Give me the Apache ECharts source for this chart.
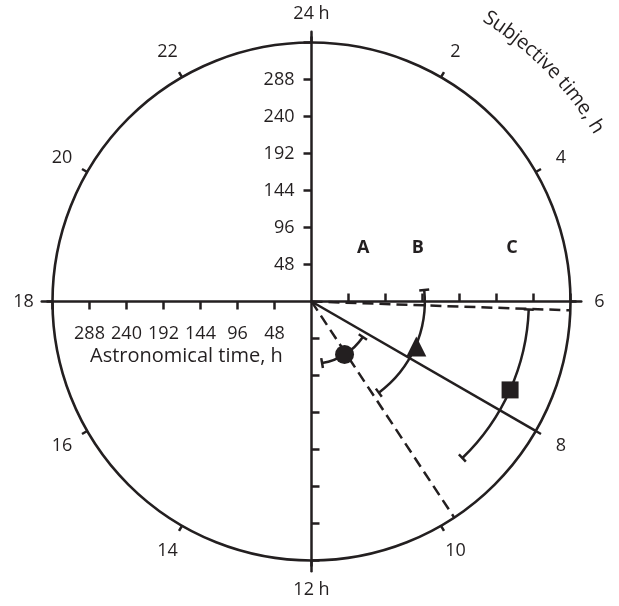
<!DOCTYPE html>
<html><head><meta charset="utf-8">
<script src="https://cdn.jsdelivr.net/npm/echarts@6/dist/echarts.min.js"></script>
<style>html,body{margin:0;padding:0;background:#fff}#c{width:619px;height:606px}</style>
</head><body><div id="c"></div>
<script>
// ---- data ----
const clockHours = [0, 2, 4, 6, 8, 10, 12, 14, 16, 18, 20, 22];
const clockLabels = ['24 h', '2', '4', '6', '8', '10', '12 h', '14', '16', '18', '20', '22'];
const radialTicks = [48, 96, 144, 192, 240, 288, 336];
const radialLabels = [48, 96, 144, 192, 240, 288];
const groupNames = ['A', 'B', 'C'];
const markerRadius = [81, 148, 282];     // astronomical time, h
const markerTime = [9.87, 7.55, 7.6];    // subjective time, h
const arcRadius = [81, 147, 282];
const arcStart = [8.31, 5.61, 6.14];
const arcEnd = [11.35, 9.57, 9.07];
const solidLineTime = 8;
const dashedLineTimes = [6.13, 9.77];
const groupLabelPos = [[67, 69], [138, 69], [260, 69]];

// ---- layout/style ----
const INK = '#231f20';
const FONT = '"Open Sans", "Noto Sans", sans-serif';
const CX = 311.5, CY = 301.5, RPX = 259;
const AXMAX = 350;
const AXPX = RPX * AXMAX / 336;
const CLOCK_LABEL_R = 288 * 336 / RPX;

const chart = echarts.init(document.getElementById('c'), null, {renderer: 'canvas'});

function arcRender(params, api) {
  const r = api.value(0), t1 = api.value(1), t2 = api.value(2);
  const c = api.coord([0, 0]);
  const p1 = api.coord([r, t1]);
  const p2 = api.coord([r, t2]);
  const R = Math.hypot(p1[0] - c[0], p1[1] - c[1]);
  const a1 = Math.atan2(p1[1] - c[1], p1[0] - c[0]);
  const a2 = Math.atan2(p2[1] - c[1], p2[0] - c[0]);
  const cap = (p) => {
    const ux = (p[0] - c[0]) / R, uy = (p[1] - c[1]) / R, h = 5;
    return {type: 'line', shape: {x1: p[0] - ux * h, y1: p[1] - uy * h, x2: p[0] + ux * h, y2: p[1] + uy * h},
      style: {stroke: INK, lineWidth: 2.5}};
  };
  return {type: 'group', children: [
    {type: 'arc', shape: {cx: c[0], cy: c[1], r: R, startAngle: a1, endAngle: a2, clockwise: true},
      style: {stroke: INK, lineWidth: 2.5, fill: null}},
    cap(p1), cap(p2)
  ]};
}

// curved title
const title = 'Subjective time, h';
const TFONT = '20px ' + FONT;
const mctx = document.createElement('canvas').getContext('2d');
mctx.font = TFONT;
const chars = Array.from(title);
const widths = chars.map(ch => mctx.measureText(ch).width);
const total = widths.reduce((a, b) => a + b, 0);
const TR = 334, midAng = 45.4 * Math.PI / 180;
let acc = -total / 2;
const titleEls = chars.map((ch, i) => {
  const m = acc + widths[i] / 2; acc += widths[i];
  const th = midAng + m / TR;
  return {type: 'text', x: CX + TR * Math.sin(th), y: CY - TR * Math.cos(th), rotation: -th,
    style: {text: ch, font: TFONT, fill: INK, align: 'center', verticalAlign: 'middle'}};
});

const axisLine = {show: true, onZero: false, lineStyle: {color: INK, width: 2.5}};
const tickStyle = {color: INK, width: 2.5};

const option = {
  animation: false,
  backgroundColor: '#fff',
  polar: {center: [CX, CY], radius: RPX},
  angleAxis: {
    type: 'value', min: 0, max: 24, interval: 2, startAngle: 90, clockwise: true,
    axisLine: {show: true, lineStyle: {color: INK, width: 2.6}},
    axisTick: {show: true, inside: false, length: 6, lineStyle: tickStyle},
    splitLine: {show: false},
    axisLabel: {show: false}
  },
  radiusAxis: {type: 'value', min: 0, max: 336, show: false},
  grid: [
    {left: CX, top: CY - AXPX, width: AXPX, height: AXPX, outerBoundsMode: 'none', containLabel: false},
    {left: CX - AXPX, top: CY, width: AXPX, height: AXPX, outerBoundsMode: 'none', containLabel: false}
  ],
  xAxis: [
    {gridIndex: 0, type: 'value', min: 0, max: AXMAX, position: 'bottom', axisLine,
      axisTick: {show: true, inside: true, length: 8, customValues: radialTicks, lineStyle: tickStyle},
      axisLabel: {show: false}, splitLine: {show: false}},
    {gridIndex: 1, type: 'value', min: 0, max: AXMAX, inverse: true, position: 'top', axisLine,
      axisTick: {show: true, inside: true, length: 8, customValues: radialTicks, lineStyle: tickStyle},
      axisLabel: {show: true, inside: true, margin: 23, customValues: radialLabels, color: INK, fontSize: 18, fontFamily: FONT},
      splitLine: {show: false}}
  ],
  yAxis: [
    {gridIndex: 0, type: 'value', min: 0, max: AXMAX, position: 'left', axisLine,
      axisTick: {show: true, inside: false, length: 8, customValues: radialTicks, lineStyle: tickStyle},
      axisLabel: {show: true, margin: 17, customValues: radialLabels, color: INK, fontSize: 18, fontFamily: FONT},
      splitLine: {show: false}},
    {gridIndex: 1, type: 'value', min: 0, max: AXMAX, inverse: true, position: 'right', axisLine,
      axisTick: {show: true, inside: false, length: 8, customValues: radialTicks, lineStyle: tickStyle},
      axisLabel: {show: false}, splitLine: {show: false}}
  ],
  graphic: [
    {type: 'text', x: 90, y: 356, style: {text: 'Astronomical time, h', font: '20px ' + FONT, fill: INK, align: 'left', verticalAlign: 'middle'}},
    ...titleEls
  ],
  series: [
    {type: 'line', coordinateSystem: 'polar', clip: false, symbol: 'none', silent: true,
      data: [[0, solidLineTime], [AXMAX, solidLineTime]], lineStyle: {color: INK, width: 2.5}},
    ...dashedLineTimes.map(t => ({type: 'line', coordinateSystem: 'polar', clip: false, symbol: 'none', silent: true,
      data: [[0, t], [336, t]], lineStyle: {color: INK, width: 2.5, type: [11, 6]}})),
    {type: 'custom', coordinateSystem: 'polar', renderItem: arcRender, z: 3,
      data: arcRadius.map((r, i) => [r, arcStart[i], arcEnd[i]])},
    ...groupNames.map((n, i) => ({type: 'scatter', coordinateSystem: 'polar', z: 5, name: n,
      symbol: ['circle', 'triangle', 'rect'][i], symbolSize: [19, 20, 17][i],
      itemStyle: {color: INK, opacity: 1}, data: [[markerRadius[i], markerTime[i]]]})),
    {type: 'scatter', coordinateSystem: 'polar', clip: false, symbolSize: 0, silent: true,
      itemStyle: {opacity: 1},
      data: clockHours.map(h => [CLOCK_LABEL_R, h]),
      label: {show: true, position: 'inside', formatter: p => clockLabels[p.dataIndex], color: INK,
        fontSize: 18, fontFamily: FONT}},
    {type: 'scatter', xAxisIndex: 0, yAxisIndex: 0, symbolSize: 0, silent: true,
      itemStyle: {opacity: 1},
      data: groupLabelPos,
      label: {show: true, position: 'inside', formatter: p => groupNames[p.dataIndex], color: INK,
        fontSize: 18, fontWeight: 'bold', fontFamily: FONT}}
  ]
};
chart.setOption(option);
</script>
</body></html>
